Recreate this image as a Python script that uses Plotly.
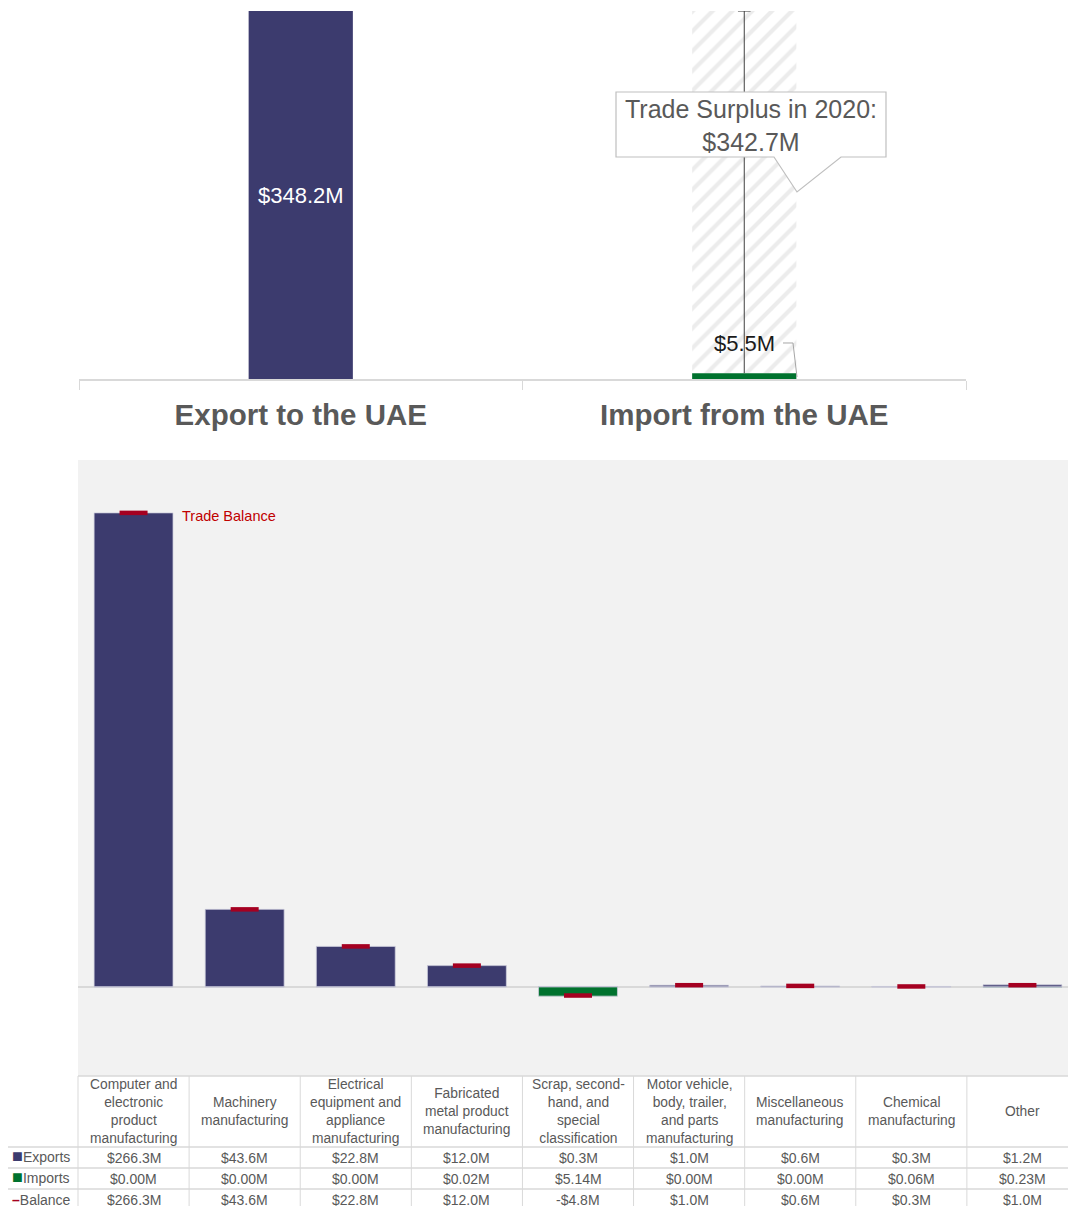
import plotly.graph_objects as go

# ---------------- data ----------------
top_categories = ["Export to the UAE", "Import from the UAE"]
export_total = 348.2
import_total = 5.5
surplus = 342.7

categories = [
    "Computer and<br>electronic<br>product<br>manufacturing",
    "Machinery<br>manufacturing",
    "Electrical<br>equipment and<br>appliance<br>manufacturing",
    "Fabricated<br>metal product<br>manufacturing",
    "Scrap, second-<br>hand, and<br>special<br>classification",
    "Motor vehicle,<br>body, trailer,<br>and parts<br>manufacturing",
    "Miscellaneous<br>manufacturing",
    "Chemical<br>manufacturing",
    "Other",
]
exports = [266.3, 43.6, 22.8, 12.0, 0.3, 1.0, 0.6, 0.3, 1.2]
imports = [0.00, 0.00, 0.00, 0.02, 5.14, 0.00, 0.00, 0.06, 0.23]
balance = [266.3, 43.6, 22.8, 12.0, -4.8, 1.0, 0.6, 0.3, 1.0]

# ---------------- style ----------------
NAVY = "#3c3b6e"
GREEN = "#00722e"
RED = "#a50021"
GRAY_TXT = "#595959"
GRID = "#d9d9d9"
EDGE = "rgba(205,205,220,0.75)"
FONT = "Liberation Sans, Arial, sans-serif"

W, H = 1078, 1206  # bottom panel runs slightly past the 1068px window, as in the reference


def PX(x):
    return x / W


def PY(y):
    return 1 - y / H


def fmt(v, d):
    s = f"${abs(v):.{d}f}M"
    return "-" + s if v < 0 else s


fig = go.Figure()

# ---------------- top chart ----------------
fig.add_trace(go.Bar(
    x=[top_categories[0]], y=[export_total], width=0.235,
    marker=dict(color=NAVY, line=dict(width=0)),
    text=[fmt(export_total, 1)], textposition="inside", insidetextanchor="middle",
    textfont=dict(size=22, color="white", family=FONT),
    xaxis="x", yaxis="y", showlegend=False, hoverinfo="skip",
))
fig.add_trace(go.Bar(
    x=[top_categories[1]], y=[surplus], base=[import_total], width=0.235,
    marker=dict(color="white", line=dict(width=0),
                pattern=dict(shape="/", fgcolor="#d9d9d9", bgcolor="white",
                             size=14, solidity=0.3)),
    xaxis="x", yaxis="y", showlegend=False, hoverinfo="skip",
))
fig.add_trace(go.Bar(
    x=[top_categories[1]], y=[import_total], width=0.235,
    marker=dict(color=GREEN, line=dict(width=0)),
    xaxis="x", yaxis="y", showlegend=False, hoverinfo="skip",
))
fig.add_trace(go.Scatter(
    x=[top_categories[1], top_categories[1]], y=[import_total, export_total],
    mode="lines+markers",
    line=dict(color="#404040", width=1),
    marker=dict(symbol=["line-ew", "line-ew"], size=[0, 9],
                line=dict(color="#404040", width=1.5)),
    xaxis="x", yaxis="y", showlegend=False, hoverinfo="skip",
))

# ---------------- bottom chart ----------------
fig.add_trace(go.Bar(
    x=list(range(len(categories))), y=exports, width=0.71,
    marker=dict(color=NAVY, line=dict(width=1, color=EDGE)),
    xaxis="x2", yaxis="y2", showlegend=False, hoverinfo="skip",
))
fig.add_trace(go.Bar(
    x=list(range(len(categories))), y=[-v for v in imports], width=0.71,
    marker=dict(color=GREEN, line=dict(width=1, color=EDGE)),
    xaxis="x2", yaxis="y2", showlegend=False, hoverinfo="skip",
))
fig.add_trace(go.Scatter(
    x=list(range(len(categories))), y=balance, mode="markers",
    marker=dict(symbol="line-ew", size=20, line=dict(color=RED, width=4.5)),
    xaxis="x2", yaxis="y2", showlegend=False, hoverinfo="skip",
))

# ---------------- shapes ----------------
shapes = []
# gray background of bottom plot
shapes.append(dict(type="rect", xref="x2 domain", yref="y2 domain", x0=0, x1=1, y0=0, y1=1,
                   fillcolor="#f2f2f2", line=dict(width=0), layer="below"))
# callout box with pointer
pts = [(616, 92), (886, 92), (886, 157), (841, 157), (797, 192), (774, 157), (616, 157)]
path = "M " + " L ".join(f"{PX(x):.5f},{PY(y):.5f}" for x, y in pts) + " Z"
shapes.append(dict(type="path", xref="paper", yref="paper", path=path,
                   fillcolor="white", line=dict(color="#bfbfbf", width=1.2), layer="above"))
# leader line for import label
lpts = [(783, 343), (793, 343), (797, 377)]
lpath = "M " + " L ".join(f"{PX(x):.5f},{PY(y):.5f}" for x, y in lpts)
shapes.append(dict(type="path", xref="paper", yref="paper", path=lpath,
                   line=dict(color="#a6a6a6", width=1), layer="above"))

# table grid
x_left, x_right = 78, W
n = len(categories)
step = (x_right - x_left) / n
header_top, header_bot = 1076, 1147
row_h = 21
for i in range(n + 1):
    xx = x_left + i * step
    shapes.append(dict(type="line", xref="paper", yref="paper",
                       x0=PX(xx), x1=PX(xx), y0=PY(header_top), y1=PY(H + 10),
                       line=dict(color=GRID, width=1)))
shapes.append(dict(type="line", xref="paper", yref="paper",
                   x0=PX(x_left), x1=1, y0=PY(header_top), y1=PY(header_top),
                   line=dict(color=GRID, width=1.5)))
for r in range(3):
    yy = header_bot + r * row_h
    shapes.append(dict(type="line", xref="paper", yref="paper",
                       x0=PX(8), x1=1, y0=PY(yy), y1=PY(yy),
                       line=dict(color=GRID, width=1.5)))

# ---------------- annotations ----------------
ann = []
ann.append(dict(xref="paper", yref="paper", x=PX(751), y=PY(125),
                text="Trade Surplus in 2020:<br>" + fmt(surplus, 1),
                showarrow=False, font=dict(size=25, color=GRAY_TXT, family=FONT),
                xanchor="center", yanchor="middle"))
ann.append(dict(xref="x", yref="paper", x=top_categories[1], y=PY(343),
                text=fmt(import_total, 1), showarrow=False,
                font=dict(size=22, color="#1a1a1a", family=FONT),
                xanchor="center", yanchor="middle"))
ann.append(dict(xref="x2", yref="y2", x=0.42, y=balance[0], yshift=-3,
                text="Trade Balance", showarrow=False,
                font=dict(size=14.5, color="#c00000", family=FONT),
                xanchor="left", yanchor="middle"))

# table header
for i, c in enumerate(categories):
    ann.append(dict(xref="x2", yref="paper", x=i, y=PY((header_top + header_bot) / 2),
                    text=c, showarrow=False, align="center",
                    font=dict(size=13.8, color=GRAY_TXT, family=FONT),
                    xanchor="center", yanchor="middle"))
rows = [
    (f"<span style='color:{NAVY};font-size:18px'>■</span>Exports", [fmt(v, 1) for v in exports], 2),
    (f"<span style='color:{GREEN};font-size:18px'>■</span>Imports", [fmt(v, 2) for v in imports], 2),
    (f"<span style='color:{RED}'><b>–</b></span>Balance", [fmt(v, 1) for v in balance], 0),
]
for r, (label, vals, ys) in enumerate(rows):
    yc = PY(header_bot + r * row_h + row_h / 2)
    ann.append(dict(xref="paper", yref="paper", x=PX(10), y=yc, text=label, yshift=ys,
                    showarrow=False, font=dict(size=14, color=GRAY_TXT, family=FONT),
                    xanchor="left", yanchor="middle"))
    for i, v in enumerate(vals):
        ann.append(dict(xref="x2", yref="paper", x=i, y=yc, text=v,
                        showarrow=False, font=dict(size=14, color=GRAY_TXT, family=FONT),
                        xanchor="center", yanchor="middle"))

fig.update_layout(
    width=W, height=H, autosize=False,
    margin=dict(l=0, r=0, t=0, b=0),
    paper_bgcolor="white", plot_bgcolor="white",
    barmode="overlay",
    font=dict(family=FONT, color=GRAY_TXT),
    xaxis=dict(domain=[PX(79), PX(966)], anchor="y", type="category",
               categoryorder="array", categoryarray=top_categories,
               showline=True, linecolor=GRID, linewidth=1.5,
               ticks="outside", tickson="boundaries", ticklen=9, tickcolor=GRID,
               tickfont=dict(size=29.5, color=GRAY_TXT, family=FONT, weight="bold"),
               ticklabelstandoff=9, showgrid=False, zeroline=False, fixedrange=True),
    yaxis=dict(domain=[PY(379), PY(11)], anchor="x", range=[0, export_total],
               showticklabels=False, showgrid=False, zeroline=False, showline=False),
    xaxis2=dict(domain=[PX(78), 1], anchor="y2", range=[-0.5, n - 0.5],
                showticklabels=False, showgrid=False, zeroline=False, showline=False, ticks=""),
    yaxis2=dict(domain=[PY(1076), PY(460)], anchor="x2", range=[-50, 296],
                showticklabels=False, showgrid=False, zeroline=True,
                zerolinecolor=GRID, zerolinewidth=1.5, showline=False, ticks=""),
    shapes=shapes,
    annotations=ann,
)

fig.write_html(
    "out.html",
    config={"displayModeBar": False},
    post_script="document.body.style.margin='0';document.body.style.overflow='hidden';"
                "document.documentElement.style.overflow='hidden';",
)
